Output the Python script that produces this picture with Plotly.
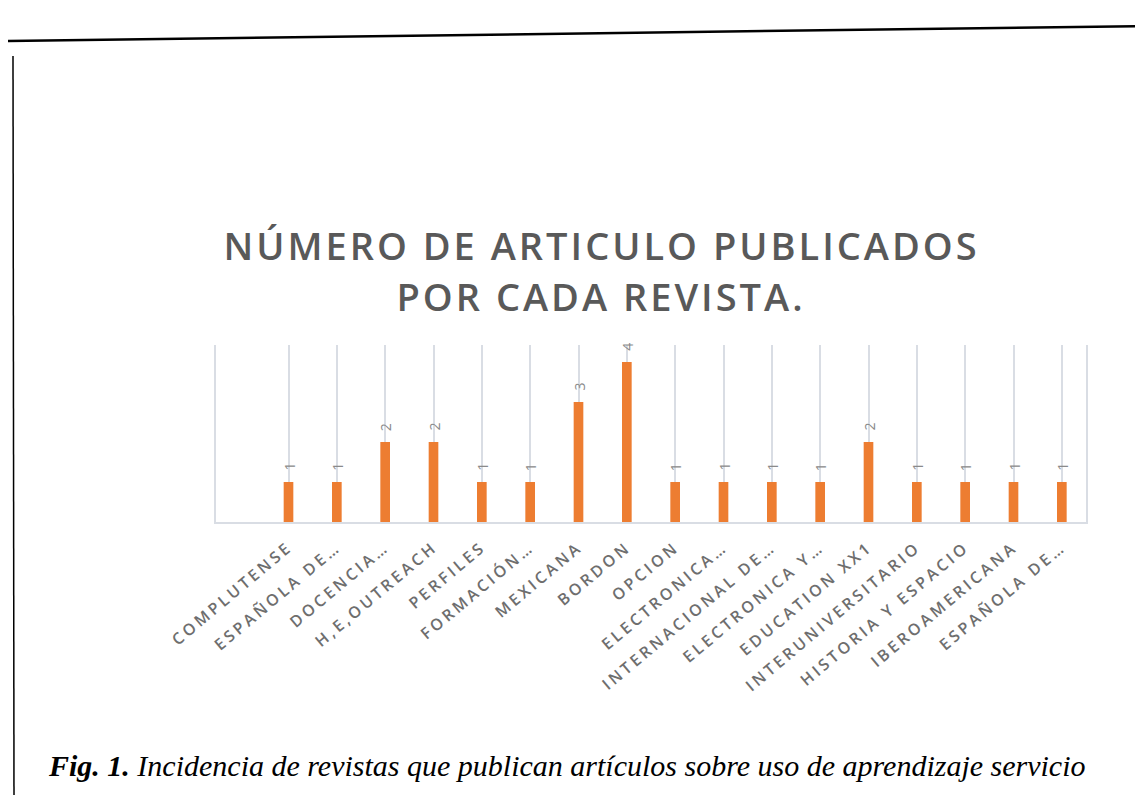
import plotly.graph_objects as go

categories = ["COMPLUTENSE", "ESPAÑOLA DE…", "DOCENCIA…", "H,E,OUTREACH", "PERFILES",
              "FORMACIÓN…", "MEXICANA", "BORDON", "OPCION", "ELECTRONICA…",
              "INTERNACIONAL DE…", "ELECTRONICA Y…", "EDUCATION XX1",
              "INTERUNIVERSITARIO", "HISTORIA Y ESPACIO", "IBEROAMERICANA", "ESPAÑOLA DE…"]
values = [1, 1, 2, 2, 1, 1, 3, 4, 1, 1, 1, 1, 2, 1, 1, 1, 1]
ids = list(range(len(categories)))

title_lines = ["NÚMERO DE ARTICULO PUBLICADOS", "POR CADA REVISTA."]
caption = ("<b><i>Fig. 1.</i></b><i> Incidencia de revistas que publican artículos "
           "sobre uso de aprendizaje servicio</i>")

W, H = 1143, 795
L, R, T, B = 208, 1078, 337, 514

fig = go.Figure()
fig.add_trace(go.Bar(
    x=ids, y=values,
    marker=dict(color="#ED7D31", line=dict(width=0)),
    hoverinfo="x+y",
))

# data labels, rotated, placed above each bar
for i, v in zip(ids, values):
    fig.add_annotation(
        x=i, y=v, text=str(v), textangle=-90, showarrow=False,
        xanchor="center", yanchor="bottom", yshift=9,
        font=dict(family="Open Sans", size=14, color="#8a8a8a"),
    )

grid = "#d9dde4"
fig.update_layout(
    width=W, height=H,
    margin=dict(l=L, r=W - R, t=T, b=H - B, autoexpand=False),
    paper_bgcolor="white", plot_bgcolor="white",
    bargap=0.8, showlegend=False,
    xaxis=dict(
        tickmode="array", tickvals=ids, ticktext=categories,
        range=[-1.5, len(categories) - 0.5],
        tickangle=-40, ticks="", tickson="boundaries", ticklabelstandoff=8,
        showgrid=True, gridcolor=grid, gridwidth=1.5,
        showline=True, linecolor=grid, linewidth=1.5,
        tickfont=dict(family="Open Sans", size=16, color="#6e6e6e", weight=600),
        zeroline=False,
    ),
    yaxis=dict(
        range=[0, 177 / 40], showgrid=False, showticklabels=False, zeroline=False,
        showline=True, linecolor=grid, linewidth=1.5, mirror=True, ticks="",
    ),
)

def px(xp):
    return (xp - L) / (R - L)

def py(yp):
    return (B - yp) / (B - T)

n_lab = len(values)
for k, (line, yc) in enumerate(zip(title_lines, [237, 288])):
    fig.add_annotation(
        text=line, xref="paper", yref="paper",
        x=px(593), y=py(yc), xanchor="center", yanchor="middle",
        showarrow=False, align="center",
        font=dict(family="Open Sans", size=38, color="#595959", weight=600),
    )
fig.add_annotation(
    text=caption, xref="paper", yref="paper",
    x=px(38), y=py(757), xanchor="left", yanchor="middle", showarrow=False,
    font=dict(family="Liberation Serif", size=30, color="black"),
)

fig.add_shape(type="line", xref="paper", yref="paper",
              x0=px(0), y0=py(33), x1=px(W), y1=py(18),
              line=dict(color="black", width=2.5))
fig.add_shape(type="line", xref="paper", yref="paper",
              x0=px(5), y0=py(48), x1=px(6), y1=py(H),
              line=dict(color="black", width=1.5))

css = ("var s=document.createElement('style');"
       "s.innerHTML='.xtick text{letter-spacing:3.2px;} "
       ".annotation[data-index=\"" + str(n_lab) + "\"] text,"
       ".annotation[data-index=\"" + str(n_lab + 1) + "\"] text{letter-spacing:3px;}';"
       "document.head.appendChild(s);")
fig.write_html("out.html", post_script=css)
